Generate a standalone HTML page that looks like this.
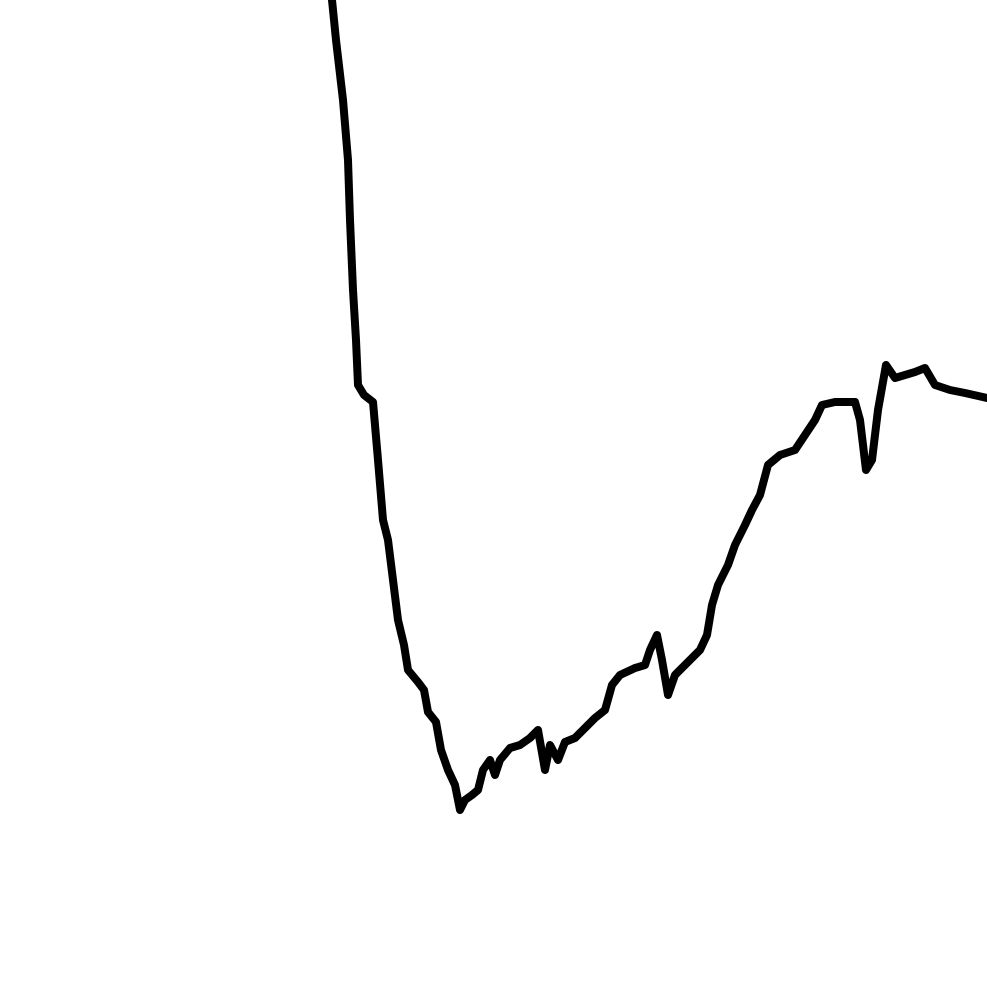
<!DOCTYPE html>
<html>
<head>
<meta charset="utf-8">
<style>
html,body{margin:0;padding:0;background:#fff;}
svg{display:block;}
</style>
</head>
<body>
<svg id="chart" width="987" height="987" viewBox="0 0 987 987">
<rect width="987" height="987" fill="#fff"></rect>
</svg>
<script>
const xValues = [332,336,343,348,350,353,356,358,364,373,378,383,388,393,398,404,408,418,424,428,436,441,448,455,460,465,472,478,483,490,495,500,510,520,530,538,545,550,558,565,575,585,595,605,612,620,635,645,650,657,662,668,675,690,700,707,712,718,728,735,745,752,760,768,780,795,805,815,822,835,855,860,866,872,878,886,895,905,915,925,935,950,965,987];
const yValues = [987,947,887,827,767,697,647,602,592,585,527,467,447,407,367,342,317,305,297,275,265,237,217,202,177,187,192,197,217,227,212,227,239,242,249,257,217,242,227,245,249,259,269,277,302,312,319,322,337,352,327,292,312,327,337,352,382,402,422,442,462,477,492,522,532,537,552,567,582,585,585,567,517,527,577,622,609,612,615,619,602,597,594,589];
const W = 987, H = 987;
function xScale(v){ return v / 987 * W; }
function yScale(v){ return H - v / 987 * H; }
const svg = document.getElementById('chart');
let d = '';
for (let i = 0; i < xValues.length; i++) {
  d += (i ? 'L' : 'M') + xScale(xValues[i]).toFixed(1) + ',' + yScale(yValues[i]).toFixed(1);
}
const path = document.createElementNS('http://www.w3.org/2000/svg', 'path');
path.setAttribute('d', d);
path.setAttribute('fill', 'none');
path.setAttribute('stroke', '#000');
path.setAttribute('stroke-width', '8');
path.setAttribute('stroke-linejoin', 'round');
path.setAttribute('stroke-linecap', 'round');


svg.appendChild(path);
</script>
</body>
</html>
